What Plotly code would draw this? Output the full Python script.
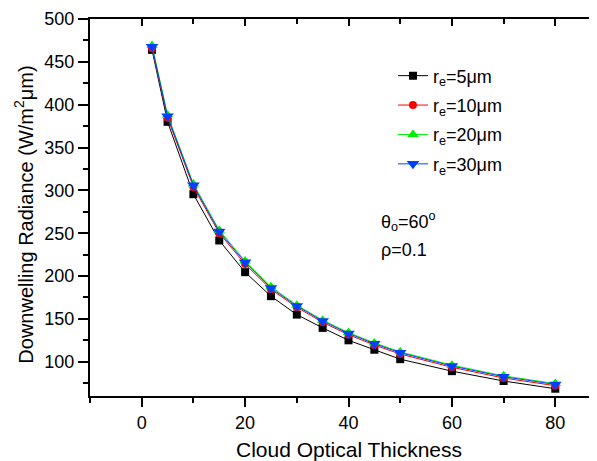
import plotly.graph_objects as go

tau = [2, 5, 10, 15, 20, 25, 30, 35, 40, 45, 50, 60, 70, 80]
rad_re5 = [464, 380, 295.5, 241.5, 204.5, 176.5, 155, 139.5, 125, 114, 103, 89, 77.5, 68.5]
rad_re10 = [466, 384.5, 304, 250, 214, 184.5, 163.5, 146, 131.5, 119.5, 109, 93.5, 81, 72]
rad_re20 = [469, 388, 307.5, 253.5, 217.5, 187.5, 166, 148.5, 134, 122, 111.5, 96, 83.5, 74.5]
rad_re30 = [467.5, 386.5, 306, 252, 216, 186, 165, 147.5, 133, 121, 110.5, 95, 82.5, 73.5]

names = ["r<sub>e</sub>=5μm", "r<sub>e</sub>=10μm", "r<sub>e</sub>=20μm", "r<sub>e</sub>=30μm"]
series = [rad_re5, rad_re10, rad_re20, rad_re30]
colors = ["#000000", "#FF0000", "#00F000", "#0040FF"]
symbols = ["square", "circle", "triangle-up", "triangle-down"]
sizes = [8, 8, 10, 11]

FONT = "Liberation Sans, Arial, Helvetica, sans-serif"

fig = go.Figure()
for i in range(4):
    fig.add_trace(go.Scatter(
        x=tau, y=series[i], mode="lines+markers", name=names[i],
        line=dict(color=colors[i], width=1),
        marker=dict(symbol=symbols[i], size=sizes[i], color=colors[i], line=dict(width=0)),
        legendgroup=str(i),
    ))

# invisible trace for top axis
fig.add_trace(go.Scatter(x=[tau[0]], y=[rad_re5[0]], xaxis="x2", mode="markers",
                         marker=dict(opacity=0), showlegend=False, hoverinfo="skip"))

# The page body has an 8px margin, so the figure is placed accordingly.
PW = 517.0   # plot width in px
PH = 377.5   # plot height in px
L, T = 82, 11

fig.update_layout(
    width=599, height=453,
    margin=dict(l=L, r=0, t=T, b=453 - T - PH, autoexpand=False),
    plot_bgcolor="white", paper_bgcolor="white",
    font=dict(family=FONT, size=18, color="black"),
    showlegend=True,
    legend=dict(x=0.586, y=0.898, xanchor="left", yanchor="top",
                bgcolor="rgba(0,0,0,0)", font=dict(size=18),
                tracegroupgap=3, traceorder="grouped"),
    xaxis=dict(range=[-10, 90], showgrid=False, zeroline=False,
               showline=True, linecolor="black", linewidth=2,
               ticks="outside", ticklen=9, tickwidth=2, tickcolor="black",
               tick0=0, dtick=20,
               minor=dict(ticks="outside", ticklen=5, tickwidth=2, tickcolor="black", dtick=10, showgrid=False),
               tickfont=dict(size=18)),
    xaxis2=dict(range=[-10, 90], overlaying="x", side="top", showgrid=False, zeroline=False,
                showline=True, linecolor="black", linewidth=2,
                ticks="inside", ticklen=7, tickwidth=2, tickcolor="black",
                tick0=0, dtick=20, showticklabels=False,
                minor=dict(ticks="inside", ticklen=5, tickwidth=2, tickcolor="black", dtick=10, showgrid=False)),
    yaxis=dict(range=[60, 500], showgrid=False, zeroline=False,
               showline=True, linecolor="black", linewidth=2,
               ticks="outside", ticklen=10, tickwidth=2, tickcolor="black",
               tick0=0, dtick=50,
               minor=dict(ticks="outside", ticklen=5, tickwidth=2, tickcolor="black", dtick=25, showgrid=False),
               tickfont=dict(size=18)),
)

fig.add_annotation(text="Cloud Optical Thickness", xref="paper", yref="paper",
                   x=0.5, y=0, yanchor="middle", xanchor="center", yshift=-53,
                   showarrow=False, font=dict(size=21))
fig.add_annotation(text="Downwelling Radiance (W/m<sup>2</sup>μm)", xref="paper", yref="paper",
                   x=0, y=0.481, xanchor="center", yanchor="middle", xshift=-66, textangle=-90,
                   showarrow=False, font=dict(size=20))
fig.add_annotation(text="θ<sub>o</sub>=60<sup>o</sup>", xref="paper", yref="paper",
                   x=(379 - 90) / PW, y=(396.5 - 222) / PH, xanchor="left", yanchor="middle",
                   showarrow=False, font=dict(size=18))
fig.add_annotation(text="ρ=0.1", xref="paper", yref="paper",
                   x=(379 - 90) / PW, y=(396.5 - 250) / PH, xanchor="left", yanchor="middle",
                   showarrow=False, font=dict(size=18))

fig.write_html("out.html")
